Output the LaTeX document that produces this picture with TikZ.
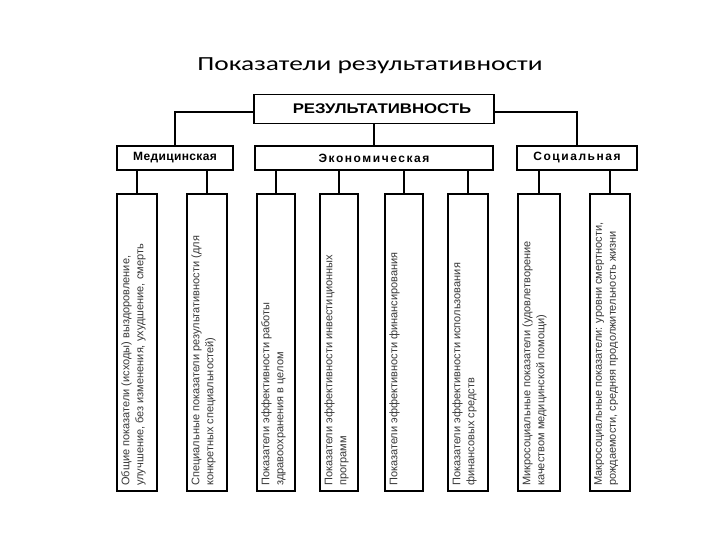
\documentclass[tikz,border=0pt]{standalone}
\usepackage{fontspec}
\setmainfont{Liberation Sans}
\newfontfamily\titlefont{Carlito}
\begin{document}
\begin{tikzpicture}[x=1pt,y=-1pt,
  box/.style={draw=black, line width=1.8pt, fill=white, inner sep=0pt},
  conn/.style={draw=black, line width=1.8pt},
  cat/.style={box, minimum height=24},
  vbox/.style={box, minimum height=297},
  vtext/.style={rotate=90, anchor=north west, align=left, inner sep=0pt, text=black!78,
    font=\fontsize{11}{14}\selectfont}
]
\useasboundingbox (0,0) rectangle (720,540);
\node[font=\titlefont\fontsize{20}{24}\selectfont, anchor=base] (title) at (370,71) {\scalebox{1.37}[1]{Показатели результативности}};

\node[box, minimum width=240, minimum height=29, font=\bfseries\fontsize{14}{16}\selectfont] (top) at (374,109)
  {\hspace*{16pt}\scalebox{1.2}[1]{РЕЗУЛЬТАТИВНОСТЬ}};

\node[cat, minimum width=116, font=\bfseries\fontsize{12}{13}\selectfont\addfontfeature{LetterSpace=3}] (med) at (175,158) {Медицинская};
\node[cat, minimum width=238, font=\bfseries\fontsize{12}{13}\selectfont\addfontfeature{LetterSpace=13}] (eco) at (374,158) {Экономическая};
\node[cat, minimum width=120, font=\bfseries\fontsize{12}{13}\selectfont\addfontfeature{LetterSpace=13}] (soc) at (577,158) {Социальная};

\coordinate (tl) at (254,112);
\coordinate (tr) at (494,112);
\draw[conn] (tl) -| (med.north);
\draw[conn] (tr) -| (soc.north);
\draw[conn] (top.south) -- (eco.north);

\foreach \n/\cx/\w in {1/137/40, 2/207/40, 3/276/38, 4/339/38, 5/404/38, 6/468/40, 7/539/42, 8/610/40}{
  \node[vbox, minimum width=\w] (v\n) at (\cx,342.5) {};
}
\foreach \n/\p in {1/med, 2/med, 3/eco, 4/eco, 5/eco, 6/eco, 7/soc, 8/soc}{
  \draw[conn] (v\n.north) -- (v\n.north |- \p.south);
}

\node[vtext] (t1) at ([xshift=5,yshift=6]v1.south west) {Общие показатели (исходы) выздоровление,\\улучшение, без изменения, ухудшение, смерть};
\node[vtext] (t2) at ([xshift=5,yshift=6]v2.south west) {Специальные показатели результативности (для\\конкретных специальностей)};
\node[vtext] (t3) at ([xshift=5,yshift=6]v3.south west) {Показатели эффективности работы\\здравоохранения в целом};
\node[vtext] (t4) at ([xshift=5,yshift=6]v4.south west) {Показатели эффективности инвестиционных\\программ};
\node[vtext] (t5) at ([xshift=5,yshift=6]v5.south west) {Показатели эффективности финансирования};
\node[vtext] (t6) at ([xshift=5,yshift=6]v6.south west) {Показатели эффективности использования\\финансовых средств};
\node[vtext] (t7) at ([xshift=5,yshift=6]v7.south west) {Микросоциальные показатели (удовлетворение\\качеством медицинской помощи)};
\node[vtext] (t8) at ([xshift=5,yshift=6]v8.south west) {Макросоциальные показатели: уровни смертности,\\рождаемости, средняя продолжительность жизни};
\end{tikzpicture}
\end{document}
